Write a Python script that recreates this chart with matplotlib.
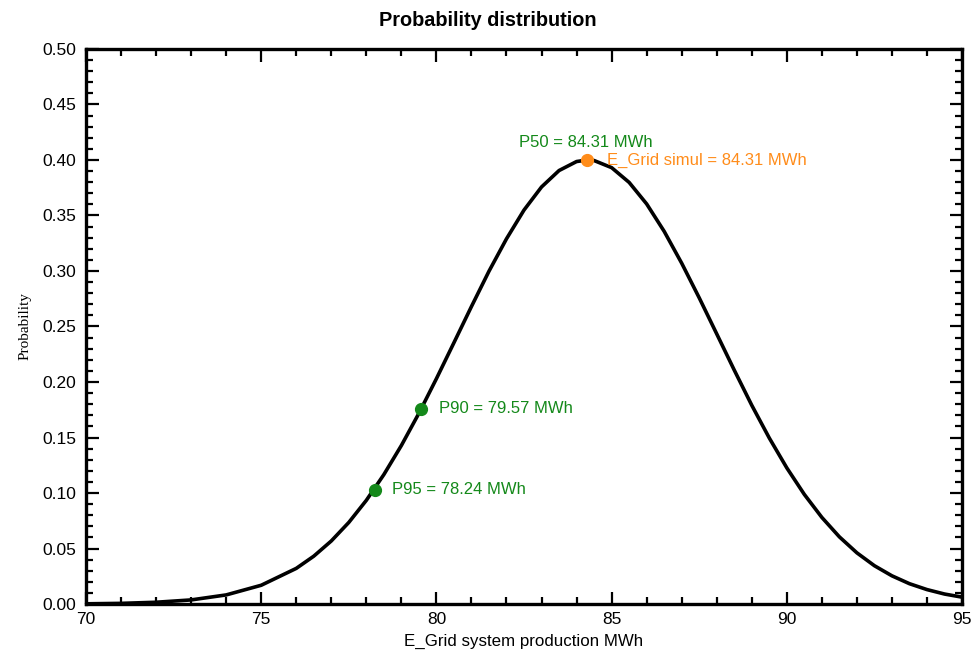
import numpy as np
import matplotlib.pyplot as plt
from matplotlib.ticker import MultipleLocator

# curve (energy in MWh, probability)
energy = [70, 71, 72, 73, 74, 75, 76, 76.5, 77, 77.5, 78, 78.5, 79, 79.5,
          80, 80.5, 81, 81.5, 82, 82.5, 83, 83.5, 84, 84.31, 84.5, 85, 85.5,
          86, 86.5, 87, 87.5, 88, 88.5, 89, 89.5, 90, 90.5, 91, 91.5, 92,
          92.5, 93, 93.5, 94, 94.5, 95]
prob = [0.0002, 0.0006, 0.0016, 0.0037, 0.0082, 0.0169, 0.0321, 0.0431,
        0.0568, 0.0735, 0.0934, 0.1166, 0.1428, 0.1718, 0.2030, 0.2354,
        0.2680, 0.2998, 0.3290, 0.3549, 0.3757, 0.3905, 0.3986, 0.4000,
        0.3995, 0.3931, 0.3798, 0.3604, 0.3357, 0.3070, 0.2758, 0.2433,
        0.2107, 0.1790, 0.1495, 0.1226, 0.0987, 0.0780, 0.0605, 0.0461,
        0.0345, 0.0254, 0.0183, 0.0130, 0.0090, 0.0062]

# marked points
p_names = ['P50', 'P90', 'P95']
p_x = [84.31, 79.57, 78.24]
p_y = [0.400, 0.176, 0.103]
simul_x = 84.31
simul_y = 0.400

green = '#14891a'
orange = '#ff8c1a'

plt.rcParams['font.family'] = ['Liberation Sans', 'DejaVu Sans']

fig = plt.figure(figsize=(9.76, 6.53), dpi=100)
ax = fig.add_axes([0.0881, 0.075, 0.8976, 0.85])

ax.plot(energy, prob, color='black', lw=2.6, zorder=2)

# P90 / P95 dots with labels to the right
for name, x, y in zip(p_names[1:], p_x[1:], p_y[1:]):
    ax.plot(x, y, 'o', color=green, ms=8.5, zorder=3)
    ax.text(x + 0.5, y, f'{name} = {x:.2f} MWh', color=green,
            fontsize=12, va='center', ha='left')

# P50 label above, simulated value dot in orange
ax.text(p_x[0] - 1.95, p_y[0] + 0.0155, f'{p_names[0]} = {p_x[0]:.2f} MWh',
        color=green, fontsize=12, va='center', ha='left')
ax.plot(simul_x, simul_y, 'o', color=orange, ms=8.5, zorder=3)
ax.text(simul_x + 0.55, simul_y, f'E_Grid simul = {simul_x:.2f} MWh',
        color=orange, fontsize=12, va='center', ha='left')

ax.set_xlim(70, 95)
ax.set_ylim(0, 0.5)
ax.xaxis.set_major_locator(MultipleLocator(5))
ax.xaxis.set_minor_locator(MultipleLocator(1))
ax.yaxis.set_major_locator(MultipleLocator(0.05))
ax.yaxis.set_minor_locator(MultipleLocator(0.01))
ax.yaxis.set_major_formatter(plt.FormatStrFormatter('%.2f'))
ax.tick_params(which='both', direction='in', top=True, right=True,
               labelsize=12.5, width=1.6, color='black')
ax.tick_params(which='major', length=9)
ax.tick_params(which='minor', length=5)
ax.tick_params(axis='y', which='major', pad=7)
ax.tick_params(axis='x', which='major', pad=5.5)
for s in ax.spines.values():
    s.set_linewidth(2.4)

ax.set_xlabel('E_Grid system production MWh', fontsize=12.2, labelpad=5)
ax.set_ylabel('Probability', fontsize=11, family='Liberation Serif', labelpad=8)
fig.suptitle('Probability distribution', fontsize=14.3, fontweight='bold', y=0.983)

fig.savefig('out.png', dpi=100)
